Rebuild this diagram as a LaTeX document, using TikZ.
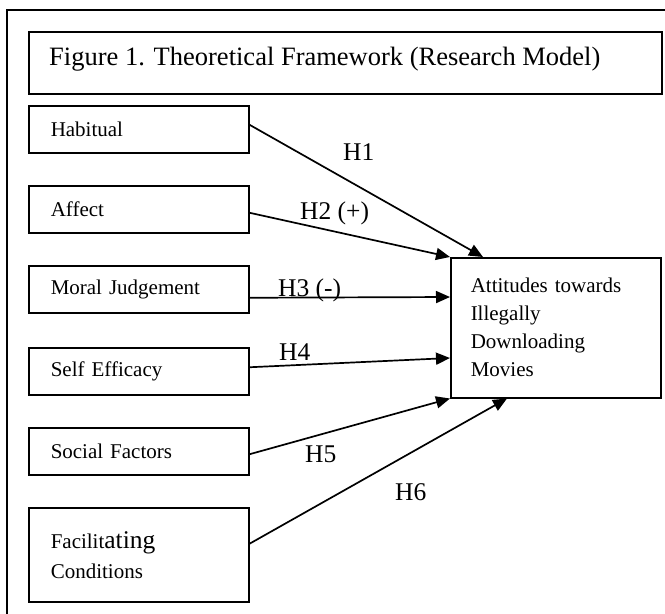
\documentclass[tikz,border=0pt]{standalone}
\usepackage{fontspec}
\setmainfont{Liberation Serif}
\usetikzlibrary{arrows.meta}
\tikzset{
  boxlab/.style={draw, line width=1.5pt, rectangle, anchor=north west, minimum width=220pt, minimum height=47pt,
    inner xsep=22pt, inner ysep=0pt, text width=176pt, align=left, font=\fontsize{21}{28}\selectfont},
  conn/.style={line width=1.7pt, -{Triangle[length=14pt,width=12pt]}},
  hlab/.style={anchor=base west, inner sep=0pt, font=\fontsize{25.5}{30}\selectfont},
}
\begin{document}
\begin{tikzpicture}[x=1pt,y=-1pt]
\useasboundingbox (0,0) rectangle (665,614);
% outer frame
\draw[line width=1.6pt] (7,614) -- (7,10) -- (665,10);
% title box
\node[draw, line width=1.5pt, rectangle, anchor=north west, minimum width=633pt, minimum height=62pt, inner sep=0pt] (title) at (28,31) {};
\node[anchor=base west, inner sep=0pt, font=\fontsize{26.5}{30}\selectfont] (titletext) at (49,65) {Figure 1. Theoretical Framework (Research Model)};
% left boxes
\node[boxlab] (hab) at (28,105) {Habitual};
\node[boxlab] (aff) at (28,185) {Affect};
\node[boxlab] (mor) at (28,265) {Moral Judgement};
\node[boxlab] (sel) at (28,347) {Self Efficacy};
\node[boxlab] (soc) at (28,427) {Social Factors};
\node[boxlab, minimum height=94pt, font=\fontsize{21}{30}\selectfont] (fac) at (28,507) {Facilit{\fontsize{25.5}{30}\selectfont ating}\\Conditions};
% target box
\node[draw, line width=1.5pt, rectangle, anchor=north west, minimum width=210pt, minimum height=140pt,
  inner xsep=20pt, inner ysep=0pt, text width=170pt, align=left, font=\fontsize{21}{28}\selectfont] (tgt) at (450,257)
  {Attitudes towards\\Illegally\\Downloading\\Movies};
% connectors
\draw[conn] ([yshift=4.5pt]hab.east) -- ([xshift=33pt]tgt.north west);
\draw[conn] ([yshift=-3.5pt]aff.east) -- (tgt.north west);
\draw[conn] ([yshift=-8.5pt]mor.east) -- ([yshift=-40pt]tgt.north west);
\draw[conn] ([yshift=4pt]sel.east) -- ([yshift=-101pt]tgt.north west);
\draw[conn] ([yshift=-3pt]soc.east) -- (tgt.south west);
\draw[conn] ([yshift=11pt]fac.east) -- ([xshift=57pt]tgt.south west);
% labels
\node[hlab] (l1) at (343,160) {H1};
\node[hlab] (l2) at (300,219) {H2 (+)};
\node[hlab] (l3) at (278,296) {H3 (-)};
\node[hlab] (l4) at (279,360) {H4};
\node[hlab] (l5) at (305,462) {H5};
\node[hlab] (l6) at (395,500) {H6};
\end{tikzpicture}
\end{document}
